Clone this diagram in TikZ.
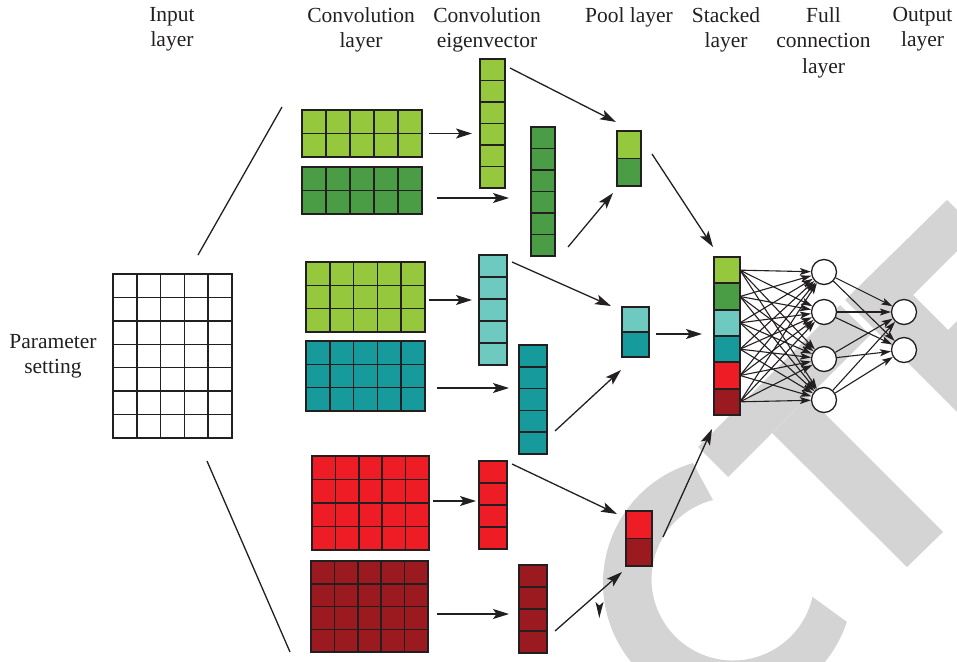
\documentclass[tikz,border=0pt]{standalone}
\usepackage{fontspec}
\setmainfont{Liberation Serif}
\usetikzlibrary{arrows.meta,calc}
\definecolor{lgreen}{HTML}{95C83D}
\definecolor{dgreen}{HTML}{4A9D44}
\definecolor{lteal}{HTML}{6ECAC1}
\definecolor{teal}{HTML}{179A9C}
\definecolor{cred}{HTML}{EE1D25}
\definecolor{dred}{HTML}{9B1A1F}
\definecolor{lc}{HTML}{231F20}
\definecolor{wmgrey}{HTML}{D4D4D4}
\newcommand\gridnode[8]{%
  \node[cellbox, fill=#8, minimum width=#4, minimum height=#5, anchor=north west] (#1) at (#2,#3) {};
  \ifnum#6>1
    \pgfmathtruncatemacro\gncols{#6-1}
    \foreach \i in {1,...,\gncols} {\draw[cellline] ($(#1.north west)!\i/#6!(#1.north east)$) -- ($(#1.south west)!\i/#6!(#1.south east)$);}
  \fi
  \ifnum#7>1
    \pgfmathtruncatemacro\gnrows{#7-1}
    \foreach \i in {1,...,\gnrows} {\draw[cellline] ($(#1.north west)!\i/#7!(#1.south west)$) -- ($(#1.north east)!\i/#7!(#1.south east)$);}
  \fi
}
\begin{document}
\begin{tikzpicture}[x=1pt,y=-1pt,
  cellbox/.style={draw=lc, line width=1.7pt, inner sep=0pt, outer sep=0pt},
  cellline/.style={draw=lc, line width=1.5pt},
  conn/.style={draw=lc, line width=1.3pt, -{Stealth[length=16pt,width=10pt,inset=3.5pt]}},
  fc/.style={draw=lc, line width=1.1pt, -{Stealth[length=11pt,width=7pt,inset=2.5pt]}},
  plain/.style={draw=lc, line width=1.3pt},
  neuron/.style={circle, draw=lc, line width=1.3pt, fill=white, minimum size=25pt, inner sep=0pt},
  hdr/.style={font=\fontsize{21.5}{25.5}\selectfont, align=center, inner sep=0pt, anchor=north, text=lc},
  wm/.style={fill=wmgrey}
]
\useasboundingbox (0,0) rectangle (957,661);
% watermark
\begin{scope}
\clip (0,0) rectangle (957,661);
\fill[wm] ([shift={(-106.3:125)}]728,583) arc[start angle=-106.3, end angle=-341.9, radius=125]
  -- ([shift={(-347.3:81.5)}]733,579) arc[start angle=-347.3, end angle=-104.2, radius=81.5] -- cycle;
\fill[wm] (698,447) -- (840,305) -- (870,335) -- (728,477) -- cycle;
\fill[wm] (772,433) -- (808,397) -- (943,532) -- (907,567) -- cycle;
\fill[wm] (845,300) -- (947,200) -- (977.5,230.5) -- (913,295) -- (948,330) -- (1000,278) -- (1000,455) -- cycle;
\end{scope}

% headers
\node[hdr] (hInput) at (172,7) {Input\\layer};
\node[hdr] (hConv) at (361,7) {Convolution\\layer};
\node[hdr] (hEig) at (487,7) {Convolution\\eigenvector};
\node[hdr] (hPool) at (629,7) {Pool layer};
\node[hdr] (hStack) at (726,7) {Stacked\\layer};
\node[hdr] (hFull) at (823.5,7) {Full\\connection\\layer};
\node[hdr] (hOut) at (922.5,7) {Output\\layer};
\node[hdr] (hParam) at (53,334) {Parameter\\setting};

% input grid
\gridnode{Inp}{113}{274}{119}{164}{5}{7}{white}
\coordinate (fanA1) at (198,255); \coordinate (fanA2) at (282,107);
\coordinate (fanB1) at (207,461); \coordinate (fanB2) at (290,652);
\draw[plain] (fanA1) -- (fanA2);
\draw[plain] (fanB1) -- (fanB2);

% green branch
\gridnode{Ga}{302}{110}{120}{47}{5}{2}{lgreen}
\gridnode{Gb}{302}{167}{120}{47}{5}{2}{dgreen}
\gridnode{Gva}{480}{59}{25}{129}{1}{6}{lgreen}
\gridnode{Gvb}{531}{127}{24}{129}{1}{6}{dgreen}
\node[cellbox, fill=lgreen, minimum width=24, minimum height=27.5, anchor=north west] (P1a) at (617,131) {};
\node[cellbox, fill=dgreen, minimum width=24, minimum height=27.5, anchor=north west] (P1b) at (617,158.5) {};

% teal branch
\gridnode{Ta}{306}{262}{119}{70}{5}{3}{lgreen}
\gridnode{Tb}{306}{341}{119}{70}{5}{3}{teal}
\gridnode{Tva}{479}{255}{28}{110}{1}{5}{lteal}
\gridnode{Tvb}{519}{345}{28}{109}{1}{5}{teal}
\node[cellbox, fill=lteal, minimum width=27, minimum height=25, anchor=north west] (P2a) at (622,307) {};
\node[cellbox, fill=teal, minimum width=27, minimum height=25, anchor=north west] (P2b) at (622,332) {};

% red branch
\gridnode{Ra}{312}{456}{117}{94}{5}{4}{cred}
\gridnode{Rb}{311}{561}{117}{91}{5}{4}{dred}
\gridnode{Rva}{479}{461}{28}{88}{1}{4}{cred}
\gridnode{Rvb}{519}{565}{28}{88}{1}{4}{dred}
\node[cellbox, fill=cred, minimum width=26, minimum height=27.5, anchor=north west] (P3a) at (626,511) {};
\node[cellbox, fill=dred, minimum width=26, minimum height=27.5, anchor=north west] (P3b) at (626,538.5) {};

% stacked layer
\foreach \c [count=\k] in {lgreen,dgreen,lteal,teal,cred,dred} {
  \node[cellbox, fill=\c, minimum width=26, minimum height=26.33, anchor=north west] (S\k) at (714,{257+(\k-1)*26.33}) {};
}

% neurons
\foreach \y [count=\k] in {272,312,359,400} {\node[neuron] (H\k) at (824,\y) {};}
\foreach \y [count=\k] in {312,350} {\node[neuron] (O\k) at (904,\y) {};}

% connectors
\draw[conn] ($(Ga.east)+(7,0)$) -- ($(Ga.east -| Gva.west)+(-8,0)$);
\draw[conn] ($(Gb.east)+(15,7.5)$) -- ($(Gb.east -| Gvb.west)+(-22,7.5)$);
\draw[conn] ($(Gva.north east)+(5,9)$) -- ($(P1a.north west)+(-1,-9)$);
\draw[conn] ($(Gvb.south east)+(13,-9)$) -- ($(P1b.south west)+(-4,7)$);
\draw[conn] ($(P1a.south east)+(11,-4.5)$) -- ($(S1.north west)+(-1,-10)$);

\draw[conn] ($(Ta.east)+(4,3)$) -- ($(Ta.east -| Tva.west)+(-7,3)$);
\draw[conn] ($(Tb.east)+(12,12)$) -- ($(Tb.east -| Tvb.west)+(-10,12)$);
\draw[conn] ($(Tva.north east)+(5,7)$) -- ($(P2a.north west)+(-11,-1)$);
\draw[conn] ($(Tvb.south east)+(8,-23)$) -- ($(P2b.south west)+(-1,13)$);
\draw[conn] ($(P2a.south east)+(7,2)$) -- ($(P2a.south east -| S3.west)+(-12,2)$);

\draw[conn] ($(Ra.east)+(4,-2)$) -- ($(Ra.east -| Rva.west)+(-3,-2)$);
\draw[conn] ($(Rb.east)+(9,7.5)$) -- ($(Rb.east -| Rvb.west)+(-10,7.5)$);
\draw[conn] ($(Rva.north east)+(5,3)$) -- ($(P3a.north west)+(-9,3)$);
\draw[conn] ($(Rvb.south east)+(8,-22)$) -- ($(P3b.south west)+(-4,6)$);
\draw[conn] ($(P3a.south east)+(11,-1.5)$) -- ($(S6.south west)+(-2,14)$);

% stray arrowhead
\fill[lc] (595.5,602) -- (599.3,605.5) -- (603.5,602) -- (599.3,618) -- cycle;

% full connections
\foreach \i in {1,...,6} {\foreach \j in {1,...,4} {\draw[fc] (S\i.east) -- (H\j);}}
\foreach \j in {1,...,4} {\foreach \k in {1,2} {\draw[fc] (H\j) -- (O\k);}}
\end{tikzpicture}
\end{document}
